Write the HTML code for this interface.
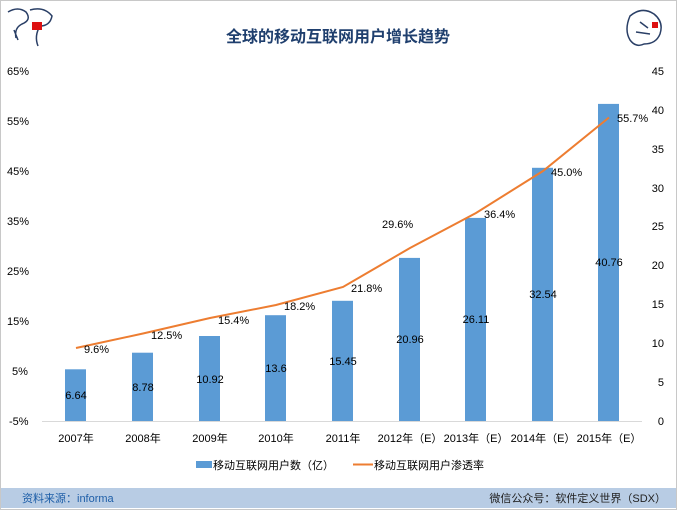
<!DOCTYPE html>
<html><head><meta charset="utf-8"><style>
body{margin:0;background:#fff;}
svg text{font-family:"Liberation Sans","Noto Sans CJK SC",sans-serif;}
</style></head><body>
<svg width="677" height="510" xmlns="http://www.w3.org/2000/svg">
<rect x="0.5" y="0.5" width="676" height="509" fill="#fff" stroke="#c8c8c8"/>
<!-- map icons -->
<g fill="none" stroke="#2a3f66" stroke-width="1.5">
<path d="M8 12 q10-6 18 0 q6 8 -4 12 q-8 4 -6 14 M30 10 q14 -4 22 6 q-2 10 -12 10 q-6 10 -2 20 M14 30 l4 10"/>
<path d="M630 16 q12-10 24-2 q10 8 6 20 q-4 10 -16 10 q-8 4 -14 -4 q-6-10 0-24z M640 22 l8 6 M636 32 l14 2"/>
</g>
<rect x="32" y="22" width="10" height="8" fill="#d11"/>
<rect x="652" y="22" width="6" height="6" fill="#d11"/>
<text x="338" y="42" text-anchor="middle" font-size="16" font-weight="bold" fill="#1f3f6e">全球的移动互联网用户增长趋势</text>
<!-- axes labels -->
<g font-size="11" fill="#000">
<text x="7" y="75">65%</text><text x="7" y="125">55%</text><text x="7" y="175">45%</text><text x="7" y="225">35%</text><text x="7" y="275">25%</text><text x="7" y="325">15%</text><text x="12" y="375">5%</text><text x="9" y="425">-5%</text>
<g text-anchor="end">
<text x="664" y="75">45</text><text x="664" y="114">40</text><text x="664" y="153">35</text><text x="664" y="192">30</text><text x="664" y="230">25</text><text x="664" y="269">20</text><text x="664" y="308">15</text><text x="664" y="347">10</text><text x="664" y="386">5</text><text x="664" y="425">0</text>
</g>
</g>
<line x1="42" y1="421.5" x2="642" y2="421.5" stroke="#d9d9d9"/>
<!-- bars -->
<g fill="#5b9bd5">
<rect x="65" y="369.3" width="21" height="51.7"/>
<rect x="132" y="352.7" width="21" height="68.3"/>
<rect x="199" y="336" width="21" height="85"/>
<rect x="265" y="315.2" width="21" height="105.8"/>
<rect x="332" y="300.8" width="21" height="120.2"/>
<rect x="399" y="257.9" width="21" height="163.1"/>
<rect x="465" y="217.9" width="21" height="203.1"/>
<rect x="532" y="167.8" width="21" height="253.2"/>
<rect x="598" y="103.9" width="21" height="317.1"/>
</g>
<g font-size="11" text-anchor="middle" fill="#000">
<text x="76" y="399">6.64</text><text x="143" y="391">8.78</text><text x="210" y="383">10.92</text><text x="276" y="372">13.6</text><text x="343" y="365">15.45</text><text x="410" y="343">20.96</text><text x="476" y="323">26.11</text><text x="543" y="298">32.54</text><text x="609" y="266">40.76</text>
</g>
<polyline fill="none" stroke="#ed7d31" stroke-width="2" points="76,348 143,333.5 210,318 276,305 343,287 410,248 476,213 543,171 609,117.5"/>
<g font-size="11" fill="#000">
<text x="84" y="353">9.6%</text><text x="151" y="339">12.5%</text><text x="218" y="324">15.4%</text><text x="284" y="310">18.2%</text><text x="351" y="292">21.8%</text><text x="382" y="228">29.6%</text><text x="484" y="218">36.4%</text><text x="551" y="176">45.0%</text><text x="617" y="122">55.7%</text>
</g>
<g font-size="11" text-anchor="middle" fill="#000">
<text x="76" y="442">2007年</text><text x="143" y="442">2008年</text><text x="210" y="442">2009年</text><text x="276" y="442">2010年</text><text x="343" y="442">2011年</text><text x="410" y="442">2012年（E）</text><text x="476" y="442">2013年（E）</text><text x="543" y="442">2014年（E）</text><text x="609" y="442">2015年（E）</text>
</g>
<rect x="196" y="461" width="16" height="7" fill="#5b9bd5"/>
<text x="213" y="469" font-size="11">移动互联网用户数（亿）</text>
<line x1="353" y1="464.5" x2="373" y2="464.5" stroke="#ed7d31" stroke-width="2"/>
<text x="374" y="469" font-size="11">移动互联网用户渗透率</text>
<rect x="1" y="488" width="675" height="20" fill="#b8cce4"/>
<text x="22" y="502" font-size="11" fill="#1f5fa8">资料来源：informa</text>
<text x="666" y="502" font-size="11" text-anchor="end" fill="#222">微信公众号：软件定义世界（SDX）</text>
</svg>
</body></html>
